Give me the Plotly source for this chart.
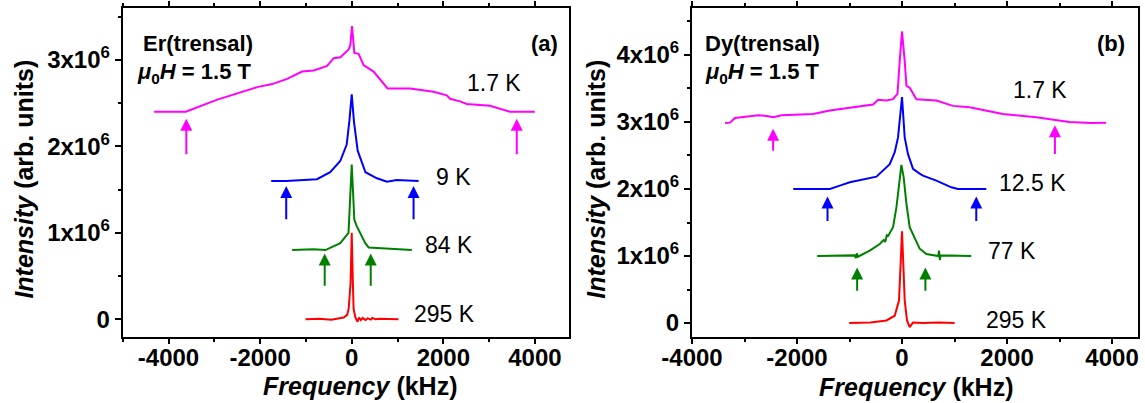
import plotly.graph_objects as go

# ---------------- data (frequency in kHz, intensity in units of 1e6) ----------------
er_17K_f = [-4314, -3624, -2934, -2063, -1736, -1410, -1083, -829, -538, -393, -248, -67, -30, 6, 57, 150, 259, 477, 782, 1276, 1784, 2075, 2147, 2365, 2511, 3018, 3454, 3998]
er_17K_i = [2.40, 2.40, 2.54, 2.685, 2.72, 2.78, 2.865, 2.877, 2.93, 3.02, 3.03, 3.12, 3.17, 3.39, 3.08, 3.07, 2.94, 2.865, 2.67, 2.67, 2.63, 2.59, 2.55, 2.52, 2.49, 2.47, 2.40, 2.40]

er_9K_f = [-1758, -1430, -760, -470, -250, -110, -50, 0, 50, 130, 300, 550, 770, 980, 1460]
er_9K_i = [1.60, 1.60, 1.62, 1.70, 1.83, 2.02, 2.30, 2.60, 2.28, 1.95, 1.70, 1.63, 1.59, 1.61, 1.60]

er_84K_f = [-1300, -830, -575, -250, -70, 0, 57, 115, 296, 370, 1313]
er_84K_i = [0.80, 0.81, 0.80, 0.88, 1.00, 1.79, 1.15, 1.07, 0.88, 0.83, 0.80]

er_295K_f = [-1010, -700, -450, -300, -176, -100, -67, -25, 0, 25, 41, 80, 128, 160, 200, 240, 300, 350, 420, 450, 520, 600, 800, 1021]
er_295K_i = [0.0, 0.005, -0.005, 0.005, 0.02, 0.05, 0.12, 0.42, 1.0, 0.42, 0.12, 0.02, -0.03, 0.02, -0.01, 0.015, -0.01, 0.01, -0.005, 0.015, 0.0, 0.005, 0.0, 0.0]

dy_17K_f = [-3371, -3276, -3181, -2738, -2578, -2452, -2293, -1692, -1375, -994, -551, -456, -297, -171, -87, -44, 0, 51, 84, 146, 274, 654, 970, 1287, 1920, 2555, 2808, 3188, 3601, 3886]
dy_17K_i = [2.985, 2.99, 3.06, 3.10, 3.09, 3.07, 3.10, 3.12, 3.17, 3.21, 3.26, 3.33, 3.32, 3.34, 3.42, 3.91, 4.35, 3.91, 3.54, 3.51, 3.34, 3.32, 3.24, 3.22, 3.12, 3.07, 3.045, 3.00, 2.985, 2.99]

dy_125K_f = [-2072, -1375, -1184, -994, -487, -329, -234, -139, -76, 0, 51, 114, 209, 336, 399, 654, 939, 1065, 1605]
dy_125K_i = [2.0, 2.0, 2.05, 2.10, 2.185, 2.30, 2.37, 2.55, 2.77, 3.37, 2.77, 2.52, 2.30, 2.23, 2.20, 2.125, 2.025, 2.0, 2.0]

dy_77K_f = [-1616, -1122, -900, -880, -860, -840, -614, -424, -350, -320, -290, -266, -171, -106, -44, -12, 32, 84, 146, 241, 336, 464, 690, 705, 720, 735, 1319]
dy_77K_i = [1.0, 1.0, 1.01, 0.97, 1.04, 0.99, 1.08, 1.18, 1.24, 1.21, 1.31, 1.30, 1.43, 1.73, 2.17, 2.36, 2.17, 1.78, 1.43, 1.26, 1.11, 1.03, 1.0, 1.08, 0.94, 1.01, 1.0]

dy_295K_f = [-1007, -600, -297, -139, -57, 0, 51, 95, 146, 209, 400, 700, 1002]
dy_295K_i = [0.0, 0.01, 0.04, 0.11, 0.34, 1.37, 0.34, 0.04, -0.06, 0.01, 0.0, 0.01, 0.0]

# arrows: x position, tip, tail (intensity in 1e6)
er_arrow_x = {"1.7": [-3611, 3603], "9": [-1430, 1350], "84": [-590, 415]}
er_arrow_tip = {"1.7": 2.32, "9": 1.54, "84": 0.76}
er_arrow_tail = {"1.7": 1.89, "9": 1.14, "84": 0.37}
dy_arrow_x = {"1.7": [-2455, 2912], "12.5": [-1419, 1414], "77": [-855, 445]}
dy_arrow_tip = {"1.7": [2.90, 2.95], "12.5": [1.89, 1.89], "77": [0.83, 0.83]}
dy_arrow_tail = {"1.7": [2.55, 2.50], "12.5": [1.50, 1.50], "77": [0.46, 0.46]}

# temperature labels (x kHz, y 1e6)
er_labels = ["1.7 K", "9 K", "84 K", "295 K"]
er_label_pos = [(2480, 2.73), (1790, 1.65), (1550, 0.86), (1315, 0.06)]
dy_labels = ["1.7 K", "12.5 K", "77 K", "295 K"]
dy_label_pos = [(2070, 3.47), (1806, 2.09), (1605, 1.07), (1553, 0.04)]

y_left_ticks = [0, 1, 2, 3]
y_right_ticks = [0, 1, 2, 3, 4]
x_ticks = [-4000, -2000, 0, 2000, 4000]

MAG, BLU, GRN, RED = "#ff00ff", "#0000ff", "#008000", "#ff0000"
FONT = "Liberation Sans, Arial, sans-serif"
E6 = 1e6

fig = go.Figure()

def add(fx, iy, color, xa, ya):
    fig.add_trace(go.Scatter(x=fx, y=[v * E6 for v in iy], mode="lines",
                             line=dict(color=color, width=2), xaxis=xa, yaxis=ya,
                             showlegend=False, hoverinfo="skip"))

add(er_17K_f, er_17K_i, MAG, "x", "y")
add(er_9K_f, er_9K_i, BLU, "x", "y")
add(er_84K_f, er_84K_i, GRN, "x", "y")
add(er_295K_f, er_295K_i, RED, "x", "y")
add(dy_17K_f, dy_17K_i, MAG, "x2", "y2")
add(dy_125K_f, dy_125K_i, BLU, "x2", "y2")
add(dy_77K_f, dy_77K_i, GRN, "x2", "y2")
add(dy_295K_f, dy_295K_i, RED, "x2", "y2")

ann = []

def arrow(xv, tip, tail, color, xr, yr):
    ann.append(dict(x=xv, y=tip * E6, ax=xv, ay=tail * E6, xref=xr, yref=yr,
                    axref=xr, ayref=yr, showarrow=True, arrowhead=2, arrowsize=1.2,
                    arrowwidth=2, arrowcolor=color, text=""))

cols_er = {"1.7": MAG, "9": BLU, "84": GRN}
for k, xs in er_arrow_x.items():
    for xv in xs:
        arrow(xv, er_arrow_tip[k], er_arrow_tail[k], cols_er[k], "x", "y")
cols_dy = {"1.7": MAG, "12.5": BLU, "77": GRN}
for k, xs in dy_arrow_x.items():
    for xv, tp, tl in zip(xs, dy_arrow_tip[k], dy_arrow_tail[k]):
        arrow(xv, tp, tl, cols_dy[k], "x2", "y2")

for t, (xv, yv) in zip(er_labels, er_label_pos):
    ann.append(dict(x=xv, y=yv * E6, xref="x", yref="y", text=t, showarrow=False,
                    xanchor="left", yanchor="middle", font=dict(size=23, color="black", family=FONT)))
for t, (xv, yv) in zip(dy_labels, dy_label_pos):
    ann.append(dict(x=xv, y=yv * E6, xref="x2", yref="y2", text=t, showarrow=False,
                    xanchor="left", yanchor="middle", font=dict(size=23, color="black", family=FONT)))

W, H = 1145, 403
def P(px, py, text, size, xanchor="left", angle=0):
    ann.append(dict(x=px / W, y=1 - py / H, xref="paper", yref="paper", text=text,
                    showarrow=False, xanchor=xanchor, yanchor="middle", textangle=angle,
                    font=dict(size=size, color="black", family=FONT)))

P(141, 43.3, "<b>Er(trensal)</b>", 22)
P(135, 73.3, "<b><i>μ</i><sub>0</sub><i>H</i> = 1.5 T</b>", 22)
P(529, 43.3, "<b>(a)</b>", 22)
P(703, 43.3, "<b>Dy(trensal)</b>", 22)
P(703, 73.3, "<b><i>μ</i><sub>0</sub><i>H</i> = 1.5 T</b>", 22)
P(1095, 43.3, "<b>(b)</b>", 22)
P(23.6, 179, "<b><i>Intensity</i> (arb. units)</b>", 25, "center", -90)
P(595.7, 179, "<b><i>Intensity</i> (arb. units)</b>", 25, "center", -90)
P(360, 386, "<b><i>Frequency</i> (kHz)</b>", 25, "center")
P(916.5, 387, "<b><i>Frequency</i> (kHz)</b>", 25, "center")

tickfont = dict(size=24, color="black", family=FONT, weight="bold")

def xax(domain, rng, anchor):
    return dict(domain=domain, range=rng, showgrid=False, zeroline=False, anchor=anchor,
                automargin=False, ticklabelstandoff=-6,
                showline=True, linecolor="black", linewidth=2, mirror="allticks",
                ticks="outside", ticklen=5, tickwidth=1.5, tickcolor="black",
                tickmode="array", tickvals=x_ticks, ticktext=[str(v) for v in x_ticks],
                tickfont=tickfont,
                minor=dict(tickmode="linear", tick0=0, dtick=1000, ticks="outside",
                           ticklen=3, tickwidth=1.5, tickcolor="black", showgrid=False))

def yax(domain, rng, tv, anchor):
    return dict(domain=domain, range=rng, showgrid=False, zeroline=False, anchor=anchor,
                automargin=False,
                showline=True, linecolor="black", linewidth=2, mirror=True,
                ticks="outside", ticklen=6, tickwidth=1.5, tickcolor="black",
                tickmode="array", tickvals=[v * E6 for v in tv],
                ticktext=["0" if v == 0 else f"{v}x10<sup>6</sup>" for v in tv],
                tickfont=tickfont,
                minor=dict(tickmode="linear", tick0=0, dtick=0.5 * E6, ticks="outside",
                           ticklen=3, tickwidth=1.5, tickcolor="black", showgrid=False))

ydom = [1 - 336.5 / H, 1 - 8 / H]
fig.update_layout(
    width=W, height=H, margin=dict(l=0, r=0, t=0, b=0, pad=0, autoexpand=False),
    paper_bgcolor="white", plot_bgcolor="white",
    font=dict(family=FONT, color="black"),
    xaxis=xax([122.7 / W, 569.3 / W], [-5000, 4750], "y"),
    yaxis=yax(ydom, [-0.2 * E6, 3.6 * E6], y_left_ticks, "x"),
    xaxis2=xax([692 / W, 1138.3 / W], [-4000, 4500], "y2"),
    yaxis2=yax(ydom, [-0.2 * E6, 4.7 * E6], y_right_ticks, "x2"),
    annotations=ann,
    showlegend=False,
)

fig.write_html("out.html")
